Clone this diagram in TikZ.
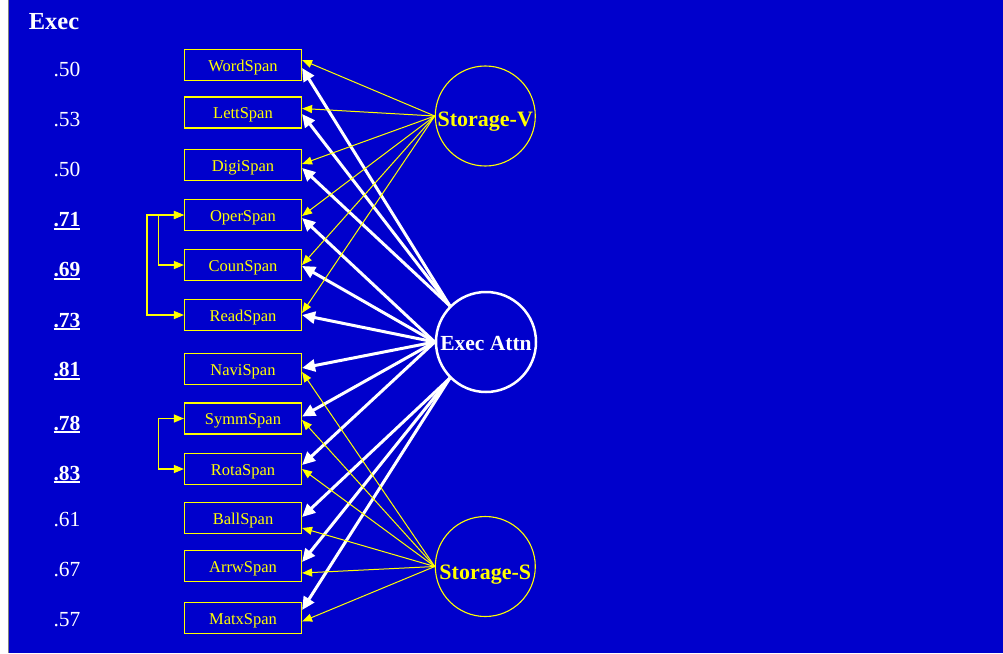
\documentclass[tikz,border=0pt]{standalone}
\usepackage{fontspec}
\setmainfont{Liberation Serif}
\usetikzlibrary{arrows.meta}
\definecolor{bg}{RGB}{0,0,204}
\definecolor{yel}{RGB}{255,255,0}
\newcommand{\ulnum}[1]{\setbox0\hbox{#1}\rlap{\rule[-3pt]{\wd0}{2pt}}\box0}
\begin{document}
\begin{tikzpicture}[x=1pt,y=-1pt,
  box/.style={draw=yel, line width=1.2pt, fill=bg, text=yel, minimum width=117pt, minimum height=31pt, inner sep=0pt, text height=12pt, text depth=0pt, font=\fontsize{16.5}{18}\selectfont},
  lat/.style={circle, minimum size=100pt, inner sep=0pt, text depth=0pt},
  num/.style={text=white, anchor=base, inner sep=0pt, font=\fontsize{21.5}{24}\selectfont},
  bnum/.style={num, font=\fontsize{21.5}{24}\selectfont\bfseries},
  ypath/.style={yel, line width=1pt, -{Triangle[length=10pt,width=8pt]}},
  wpath/.style={white, line width=3pt, -{Triangle[length=13pt,width=12pt]}},
  cov/.style={yel, line width=1.2pt, {Triangle[length=10pt,width=8pt]}-{Triangle[length=10pt,width=8pt]}},
]
\useasboundingbox (0,0) rectangle (1003,653);
\fill[white] (0,0) rectangle (1003,653);
\fill[bg] (8.5,0) rectangle (1003,653);
\draw[gray, line width=1pt] (8.5,0) -- (8.5,653);

% title
\node[text=white, anchor=base, inner sep=0pt, font=\fontsize{24.5}{28}\selectfont\bfseries] (title) at (54,29) {Exec};

% loadings
\node[num]  (n1)  at (67,76)    {.50};
\node[num]  (n2)  at (67,126)   {.53};
\node[num]  (n3)  at (67,176)   {.50};
\node[bnum] (n4)  at (67,226.5) {\ulnum{.71}};
\node[bnum] (n5)  at (67,276.5) {\ulnum{.69}};
\node[bnum] (n6)  at (67,327)   {\ulnum{.73}};
\node[bnum] (n7)  at (67,376.7) {\ulnum{.81}};
\node[bnum] (n8)  at (67,430)   {\ulnum{.78}};
\node[bnum] (n9)  at (67,480)   {\ulnum{.83}};
\node[num]  (n10) at (67,526.7) {.61};
\node[num]  (n11) at (67,576.7) {.67};
\node[num]  (n12) at (67,626.7) {.57};

% boxes
\node[box] (word) at (243,65)    {WordSpan};
\node[box] (lett) at (243,112.5) {LettSpan};
\node[box] (digi) at (243,165)   {DigiSpan};
\node[box] (oper) at (243,215)   {OperSpan};
\node[box] (coun) at (243,265)   {CounSpan};
\node[box] (read) at (243,315)   {ReadSpan};
\node[box] (navi) at (243,369)   {NaviSpan};
\node[box] (symm) at (243,418.5) {SymmSpan};
\node[box] (rota) at (243,469)   {RotaSpan};
\node[box] (ball) at (243,518)   {BallSpan};
\node[box] (arrw) at (243,566)   {ArrwSpan};
\node[box] (matx) at (243,618)   {MatxSpan};

% latent variables
\node[lat, draw=yel, line width=1.1pt, text=yel, text height=21.4pt,
      font=\fontsize{22}{26}\selectfont\bfseries] (sv) at (485.3,116) {Storage-V};
\node[lat, draw=white, line width=2.5pt, text=white, text height=17.4pt,
      font=\fontsize{21.5}{24}\selectfont\bfseries] (ea) at (486,342) {Exec Attn};
\node[lat, draw=yel, line width=1.1pt, text=yel, text height=25pt,
      font=\fontsize{22}{26}\selectfont\bfseries] (ss) at (485.3,566.5) {Storage-S};

% executive attention loadings
\draw[wpath] (ea.135) -- ([yshift=-3pt]word.east);
\draw[wpath] (ea.135) -- ([yshift=-1.5pt]lett.east);
\draw[wpath] (ea.135) -- ([yshift=-3pt]digi.east);
\draw[wpath] (ea.west) -- ([yshift=-3pt]oper.east);
\draw[wpath] (ea.west) -- ([yshift=-1pt]coun.east);
\draw[wpath] (ea.west) -- (read.east);
\draw[wpath] (ea.west) -- ([yshift=1pt]navi.east);
\draw[wpath] (ea.west) -- ([yshift=2pt]symm.east);
\draw[wpath] (ea.west) -- ([yshift=4pt]rota.east);
\draw[wpath] (ea.225) -- ([yshift=1pt]ball.east);
\draw[wpath] (ea.225) -- ([yshift=4pt]arrw.east);
\draw[wpath] (ea.225) -- ([yshift=8pt]matx.east);

% storage loadings
\draw[ypath] (sv.west) -- ([yshift=5pt]word.east);
\draw[ypath] (sv.west) -- ([yshift=4pt]lett.east);
\draw[ypath] (sv.west) -- ([yshift=1pt]digi.east);
\draw[ypath] (sv.west) -- ([yshift=-1pt]oper.east);
\draw[ypath] (sv.west) -- (coun.east);
\draw[ypath] (sv.west) -- ([yshift=2pt]read.east);
\draw[ypath] (ss.west) -- ([yshift=-3pt]navi.east);
\draw[ypath] (ss.west) -- ([yshift=-1.5pt]symm.east);
\draw[ypath] (ss.west) -- (rota.east);
\draw[ypath] (ss.west) -- ([yshift=-10pt]ball.east);
\draw[ypath] (ss.west) -- ([yshift=-7pt]arrw.east);
\draw[ypath] (ss.west) -- ([yshift=-3.5pt]matx.east);

% covariances
\draw[cov] (oper.west) -- ++(-37,0) |- (read.west);
\draw[cov] (oper.west) -- ++(-25.5,0) |- (coun.west);
\draw[cov] (symm.west) -- ++(-25.5,0) |- (rota.west);
\end{tikzpicture}
\end{document}
